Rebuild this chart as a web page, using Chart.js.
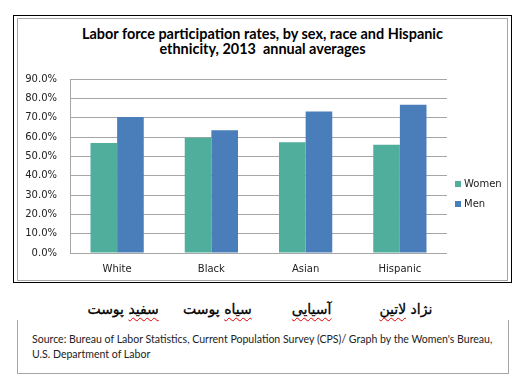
<!DOCTYPE html>
<html><head><meta charset="utf-8">
<script src="https://cdn.jsdelivr.net/npm/chart.js@4.4.1/dist/chart.umd.min.js"></script>
<style>
html,body{margin:0;padding:0;background:#fff;width:530px;height:391px;overflow:hidden;position:relative;font-family:"DejaVu Sans",sans-serif}
#outer{position:absolute;left:13px;top:15px;width:497px;height:266px;border:1px solid #000;box-sizing:content-box}
#inner{position:absolute;left:17px;top:18px;width:489px;height:261px;border:1px solid #a6a6a6}
#title{position:absolute;left:17px;top:26px;width:491px;text-align:center;font-family:Lato,"Open Sans",sans-serif;font-weight:bold;font-size:15px;line-height:15px;color:#000;white-space:nowrap}
#wrap{position:absolute;left:17px;top:60px;width:491px;height:221px}
.fa{position:absolute;top:299px;font-family:"DejaVu Sans",sans-serif;font-size:14px;line-height:20px;white-space:nowrap;direction:rtl;color:#000;-webkit-text-stroke:0.3px #000}
.sq{text-decoration:underline wavy #e00000;text-decoration-thickness:1px;text-underline-offset:3px}
#src{position:absolute;left:17px;top:320px;width:490px;height:53px;border-left:1px solid #a6a6a6;border-right:1px solid #a6a6a6;border-bottom:1px solid #a6a6a6}
#srctxt{position:absolute;left:14px;top:12px;font-family:Lato,"Open Sans",sans-serif;font-size:11px;line-height:15px;color:#222;white-space:nowrap}
</style></head>
<body>
<div id="outer"></div>
<div id="inner"></div>
<div id="title"><span id="t1">Labor force participation rates, by sex, race and Hispanic</span><br><span id="t2">ethnicity, 2013&nbsp; annual averages</span></div>
<div id="wrap"><canvas id="c"></canvas></div>
<div id="src"><div id="srctxt"><span id="s1">Source: Bureau of Labor Statistics, Current Population Survey (CPS)/ Graph by the Women's Bureau,</span><br>U.S. Department of Labor</div></div>
<script>
const categories = ['White', 'Black', 'Asian', 'Hispanic'];
const seriesNames = ['Women', 'Men'];
const womenValues = [56.9, 59.6, 57.3, 56.0];
const menValues = [70.4, 63.5, 73.2, 76.7];
const persianLabels = ['سفید پوست', 'سیاه پوست', 'آسیایی', 'نژاد لاتین'];
const flaggedWords = ['سفید', 'سیاه', 'آسیایی', 'لاتین'];
const yMax = 90, yStep = 10;

function fit(el, target) {
  let fs = parseFloat(getComputedStyle(el.parentNode).fontSize);
  for (let k = 0; k < 6; k++) {
    const w = el.getBoundingClientRect().width;
    fs = fs * target / w;
    el.parentNode.style.fontSize = fs + 'px';
  }
}
fit(document.getElementById('t1'), 361);
fit(document.getElementById('s1'), 461);

const legendPlugin = {
  id: 'sideLegend',
  afterDraw(chart) {
    const ctx = chart.ctx;
    ctx.save();
    ctx.font = '10px "DejaVu Sans"';
    ctx.textBaseline = 'middle';
    ctx.textAlign = 'left';
    chart.data.datasets.forEach((ds, i) => {
      const y = 124 + i * 20;
      ctx.fillStyle = ds.backgroundColor;
      ctx.fillRect(438, y - 3, 6, 6);
      ctx.fillStyle = '#222';
      ctx.fillText(ds.label, 447, y + 0.5);
    });
    ctx.restore();
  }
};

const chart = new Chart(document.getElementById('c'), {
  type: 'bar',
  data: {
    labels: categories,
    datasets: [
      { label: seriesNames[0], data: womenValues, backgroundColor: '#4fae9c' },
      { label: seriesNames[1], data: menValues, backgroundColor: '#4a7ebb' }
    ]
  },
  options: {
    responsive: true,
    maintainAspectRatio: false,
    animation: false,
    layout: { padding: { top: 6, right: 61, bottom: 0, left: 0 } },
    plugins: { legend: { display: false }, title: { display: false }, tooltip: { enabled: false } },
    datasets: { bar: { categoryPercentage: 0.565, barPercentage: 1.0 } },
    scales: {
      x: {
        grid: { display: false, drawTicks: false },
        border: { display: false },
        ticks: { color: '#222', font: { family: 'DejaVu Sans', size: 10 }, padding: 10 },
        afterFit: s => { s.height = 28; }
      },
      y: {
        min: 0, max: yMax,
        grid: { color: '#a6a6a6', drawTicks: false, lineWidth: 1 },
        border: { display: true, color: '#a6a6a6' },
        ticks: {
          stepSize: yStep, color: '#222', padding: 13,
          font: { family: 'DejaVu Sans', size: 10 },
          callback: v => v.toFixed(1) + '%'
        },
        afterFit: s => { s.width = 53; }
      }
    }
  },
  plugins: [legendPlugin]
});

const xs = chart.scales.x;
persianLabels.forEach((lab, i) => {
  const d = document.createElement('div');
  d.className = 'fa';
  const f = flaggedWords[i];
  const idx = lab.indexOf(f);
  d.innerHTML = lab.slice(0, idx) + '<span class="sq">' + f + '</span>' + lab.slice(idx + f.length);
  document.body.appendChild(d);
  const cx = 17 + xs.getPixelForValue(i) + 6;
  d.style.left = (cx - d.getBoundingClientRect().width / 2) + 'px';
});
</script>
</body></html>
